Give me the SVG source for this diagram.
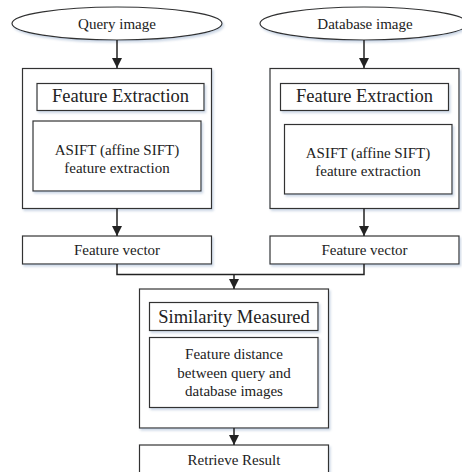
<svg xmlns="http://www.w3.org/2000/svg" width="462" height="472" viewBox="0 0 462 472">
<defs>
<filter id="sh" x="-10%" y="-10%" width="120%" height="130%">
<feDropShadow dx="1.5" dy="2" stdDeviation="1.2" flood-color="#8fa8c8" flood-opacity="0.45"/>
</filter>
<marker id="ah" markerWidth="10" markerHeight="10" viewBox="0 0 10 10" refX="10" refY="5" orient="auto" markerUnits="userSpaceOnUse">
<path d="M0,0 L10,5 L0,10 Z" fill="#222"/>
</marker>
</defs>
<style>
.b{fill:#fff;stroke:#333;stroke-width:1.2;filter:url(#sh)}
.t{font-family:"Liberation Serif","Times New Roman",serif;fill:#222;text-anchor:middle;font-size:15px}
.h{font-size:18.5px}
.c{fill:none;stroke:#222;stroke-width:1.5}
</style>
<g id="query">
<ellipse class="b" cx="117" cy="23.5" rx="105" ry="16.5"/>
<text class="t" x="117" y="28.5">Query image</text>
</g>
<g id="database">
<ellipse class="b" cx="364" cy="23.5" rx="104" ry="16.5"/>
<text class="t" x="365" y="28.5">Database image</text>
</g>
<g id="fe-left">
<rect class="b" x="22.5" y="68.5" width="189" height="140"/>
<rect class="b" x="37" y="83.5" width="167" height="27"/>
<text class="t h" x="120.5" y="102">Feature Extraction</text>
<rect class="b" x="33" y="121" width="168" height="70"/>
<text class="t" x="117" y="155">ASIFT (affine SIFT)</text>
<text class="t" x="117" y="172.5">feature extraction</text>
</g>
<g id="fe-right">
<rect class="b" x="270" y="68.5" width="189" height="140"/>
<rect class="b" x="280.5" y="83.5" width="168" height="27"/>
<text class="t h" x="364.5" y="102">Feature Extraction</text>
<rect class="b" x="284.5" y="124.5" width="167.5" height="69.5"/>
<text class="t" x="368" y="158">ASIFT (affine SIFT)</text>
<text class="t" x="368" y="175.5">feature extraction</text>
</g>
<g id="fv-left">
<rect class="b" x="22.5" y="236" width="189" height="28"/>
<text class="t" x="117" y="255">Feature vector</text>
</g>
<g id="fv-right">
<rect class="b" x="270" y="236" width="189" height="28"/>
<text class="t" x="364.5" y="255">Feature vector</text>
</g>
<g id="similarity">
<rect class="b" x="139.5" y="289" width="189" height="139"/>
<rect class="b" x="149.5" y="302.5" width="168.5" height="28"/>
<text class="t h" x="234" y="323">Similarity Measured</text>
<rect class="b" x="149.5" y="337.5" width="168.5" height="70"/>
<text class="t" x="234" y="359">Feature distance</text>
<text class="t" x="234" y="377.5">between query and</text>
<text class="t" x="234" y="396">database images</text>
</g>
<g id="retrieve">
<rect class="b" x="139.5" y="445" width="189" height="40"/>
<text class="t" x="234" y="465">Retrieve Result</text>
</g>
<g id="connectors">
<line class="c" x1="117" y1="40" x2="117" y2="68" marker-end="url(#ah)"/>
<line class="c" x1="364" y1="40" x2="364" y2="68" marker-end="url(#ah)"/>
<line class="c" x1="117" y1="208.5" x2="117" y2="236" marker-end="url(#ah)"/>
<line class="c" x1="364" y1="208.5" x2="364" y2="236" marker-end="url(#ah)"/>
<polyline class="c" points="117,264 117,274.5 364,274.5 364,264"/>
<line class="c" x1="234" y1="274.5" x2="234" y2="289" marker-end="url(#ah)"/>
<line class="c" x1="234" y1="428" x2="234" y2="445" marker-end="url(#ah)"/>
</g>
</svg>
